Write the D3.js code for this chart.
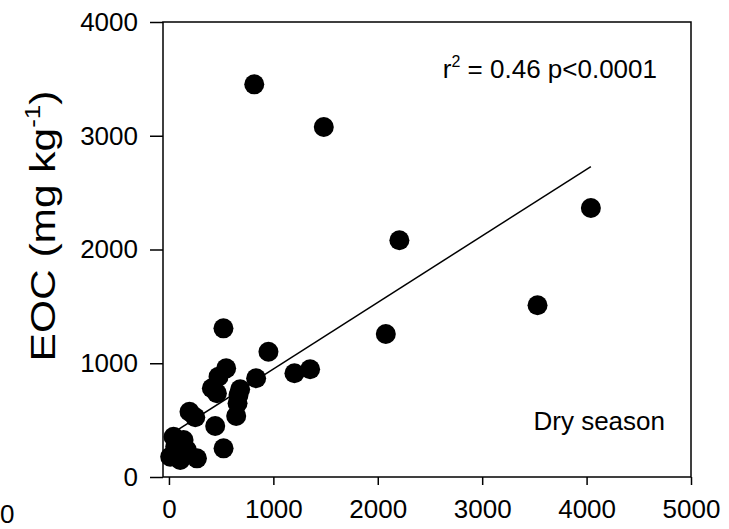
<!DOCTYPE html>
<html>
<head>
<meta charset="utf-8">
<script src="https://cdn.jsdelivr.net/npm/d3@7"></script>
<style>
  html, body { margin: 0; padding: 0; background: #fff; }
  svg { display: block; font-family: Arial, "Liberation Sans", sans-serif; }
</style>
</head>
<body>
<svg id="chart" width="729" height="529"></svg>
<script>
// Dry-season samples: x value vs extractable organic carbon (mg kg-1)
const xValues = [817, 1483, 2207, 4041, 3530, 2077, 522, 953, 548, 475, 1352, 1202, 835,
  411, 459, 682, 666, 657, 644, 197, 252, 443, 523, 44, 140, 268, 108, 12, 60, 172, 124];
const eocValues = [3452, 3077, 2081, 2365, 1510, 1257, 1307, 1101, 955, 882, 947, 912, 868,
  780, 736, 771, 721, 648, 536, 574, 525, 448, 252, 354, 325, 164, 149, 178, 266, 237, 208];

// Linear fit drawn across the data range
const fitSlope = 0.585;
const fitIntercept = 365;
const fitRange = [12, 4041];

const xTicks = [0, 1000, 2000, 3000, 4000, 5000];
const yTicks = [0, 1000, 2000, 3000, 4000];

const svg = d3.select("#chart");
const plotLeft = 163, plotRight = 691, plotTop = 22, plotBottom = 477;

const x = d3.scaleLinear().domain([-57, 5000]).range([plotLeft, plotRight]);
const y = d3.scaleLinear().domain([0, 4000]).range([plotBottom, plotTop]);

// Frame
svg.append("rect")
  .attr("x", plotLeft).attr("y", plotTop)
  .attr("width", plotRight - plotLeft).attr("height", plotBottom - plotTop)
  .attr("fill", "none").attr("stroke", "#000").attr("stroke-width", 1.5);

// Axes
const xAxis = svg.append("g")
  .attr("transform", `translate(0,${plotBottom})`)
  .call(d3.axisBottom(x).tickValues(xTicks).tickSize(8).tickPadding(15).tickFormat(d3.format("d")));
const yAxis = svg.append("g")
  .attr("transform", `translate(${plotLeft},0)`)
  .call(d3.axisLeft(y).tickValues(yTicks).tickSize(13).tickPadding(12).tickFormat(d3.format("d")));

[xAxis, yAxis].forEach(g => {
  g.select(".domain").remove();
  g.selectAll(".tick line").attr("stroke", "#000").attr("stroke-width", 1.5);
  g.selectAll(".tick text")
    .attr("fill", "#000")
    .style("font-size", "26px")
    .style("font-family", "Arial, 'Liberation Sans', sans-serif");
});

// Regression line
svg.append("line")
  .attr("x1", x(fitRange[0])).attr("y1", y(fitIntercept + fitSlope * fitRange[0]))
  .attr("x2", x(fitRange[1])).attr("y2", y(fitIntercept + fitSlope * fitRange[1]))
  .attr("stroke", "#000").attr("stroke-width", 1.5);

// Points
svg.append("g").selectAll("circle")
  .data(xValues.map((v, i) => [v, eocValues[i]]))
  .join("circle")
  .attr("cx", d => x(d[0]))
  .attr("cy", d => y(d[1]))
  .attr("r", 10)
  .attr("fill", "#000");

// Y axis title (slightly elongated along its length)
const yTitle = svg.append("text")
  .attr("transform", `translate(55,226) rotate(-90) scale(1.18,1)`)
  .attr("text-anchor", "middle")
  .style("font-size", "36px")
  .attr("fill", "#000");
yTitle.append("tspan").text("EOC (mg kg");
yTitle.append("tspan").attr("dy", -15).style("font-size", "22px").text("-1");
yTitle.append("tspan").attr("dy", 15).text(")");

// Statistics
const stat = svg.append("text")
  .attr("x", 657).attr("y", 78)
  .attr("text-anchor", "end")
  .style("font-size", "26px")
  .attr("fill", "#000");
stat.append("tspan").text("r");
stat.append("tspan").attr("dy", -11).style("font-size", "16px").text("2");
stat.append("tspan").attr("dy", 11).text(" = 0.46 p<0.0001");

// Season label
svg.append("text")
  .attr("x", 665).attr("y", 430)
  .attr("text-anchor", "end")
  .style("font-size", "26px")
  .attr("fill", "#000")
  .text("Dry season");

// Zero label at the lower-left edge
svg.append("text")
  .attr("x", 0).attr("y", 523)
  .attr("text-anchor", "start")
  .style("font-size", "26px")
  .attr("fill", "#000")
  .text("0");
</script>
</body>
</html>
